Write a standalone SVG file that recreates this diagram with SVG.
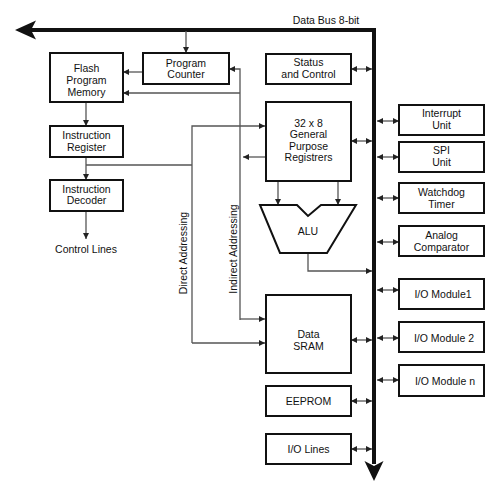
<svg xmlns="http://www.w3.org/2000/svg" width="500" height="495" viewBox="0 0 500 495">
<defs>
<marker id="ah" viewBox="0 0 10 10" refX="10" refY="5" markerWidth="7" markerHeight="6" markerUnits="userSpaceOnUse" orient="auto-start-reverse"><path d="M0,0 L10,5 L0,10 Z" fill="#222"/></marker>
</defs>
<style>
.box{fill:#fff;stroke:#111;stroke-width:2}
.t{font-family:"Liberation Sans",Arial,sans-serif;font-size:10.5px;fill:#111;text-anchor:middle}
.c{fill:none;stroke:#555;stroke-width:1.3}
.a{marker-end:url(#ah)}
.b{marker-start:url(#ah);marker-end:url(#ah)}
.bus{fill:none;stroke:#111;stroke-width:4}
.head{fill:#111}
</style>
<rect width="500" height="495" fill="#fff"/>
<g id="connectors">
<path class="bus" d="M374,464 L374,30 L30,30"/>
<path class="head" d="M15,30 L36,20.5 L31,30 L36,39.5 Z"/>
<path class="head" d="M374,481 L364.5,461 L374,466 L383.5,461 Z"/>
<path class="c a" d="M186,31 V53"/>
<path class="c a" d="M143,72 H123"/>
<path class="c a" d="M240,93 H123"/>
<path class="c a" d="M240,320 V69 H229"/>
<path class="c a" d="M266,157 H243"/>
<path class="c a" d="M240,319 H265"/>
<path class="c a" d="M192,343 V126 H265"/>
<path class="c a" d="M192,343 H265"/>
<path class="c" d="M86,165 H192"/>
<path class="c a" d="M86,102 V126"/>
<path class="c a" d="M86,157 V180"/>
<path class="c a" d="M86,211 V239"/>
<path class="c a" d="M278,181 V205"/>
<path class="c a" d="M338,181 V205"/>
<path class="c a" d="M308,253 V271 H372"/>
<path class="c b" d="M351,69 H372"/>
<path class="c b" d="M351,141 H372"/>
<path class="c b" d="M351,340 H372"/>
<path class="c b" d="M351,401 H372"/>
<path class="c b" d="M351,449 H372"/>
<path class="c b" d="M377,121 H399"/>
<path class="c b" d="M377,157 H399"/>
<path class="c b" d="M377,198 H399"/>
<path class="c b" d="M377,242 H399"/>
<path class="c b" d="M377,290 H399"/>
<path class="c b" d="M377,338 H399"/>
<path class="c b" d="M377,380 H399"/>
</g>
<text class="t" x="326" y="23.7">Data Bus 8-bit</text>
<text class="t" x="86" y="252.7">Control Lines</text>
<text class="t" transform="translate(187,253) rotate(-90)" x="0" y="0">Direct Addressing</text>
<text class="t" transform="translate(237,249) rotate(-90)" x="0" y="0">Indirect Addressing</text>
<g id="program-counter"><rect class="box" x="143" y="53" width="86" height="31"/><text class="t" x="186" y="66.5">Program</text><text class="t" x="186" y="78">Counter</text></g>
<g id="flash"><rect class="box" x="50" y="53" width="73" height="49"/><text class="t" x="86.5" y="71.7">Flash</text><text class="t" x="86.5" y="83.7">Program</text><text class="t" x="86.5" y="95.7">Memory</text></g>
<g id="instruction-register"><rect class="box" x="50" y="126" width="73" height="31"/><text class="t" x="86.5" y="138.7">Instruction</text><text class="t" x="86.5" y="150.7">Register</text></g>
<g id="instruction-decoder"><rect class="box" x="50" y="180" width="73" height="31"/><text class="t" x="86.5" y="192.7">Instruction</text><text class="t" x="86.5" y="203.7">Decoder</text></g>
<g id="status"><rect class="box" x="266" y="54" width="85" height="30"/><text class="t" x="308.5" y="65.7">Status</text><text class="t" x="308.5" y="77.7">and Control</text></g>
<g id="registers"><rect class="box" x="266" y="102" width="85" height="79"/><text class="t" x="308.5" y="126.7">32 x 8</text><text class="t" x="308.5" y="138.2">General</text><text class="t" x="308.5" y="149.7">Purpose</text><text class="t" x="308.5" y="161.2">Registrers</text></g>
<g id="alu"><path class="box" d="M260,205 L297,205 L308,216 L321,205 L356,205 L327,253 L280,253 Z"/><text class="t" x="308" y="234.7">ALU</text></g>
<g id="sram"><rect class="box" x="266" y="295" width="85" height="78"/><text class="t" x="308.5" y="337.7">Data</text><text class="t" x="308.5" y="349.7">SRAM</text></g>
<g id="eeprom"><rect class="box" x="266" y="386" width="85" height="30"/><text class="t" x="308.5" y="404.7">EEPROM</text></g>
<g id="io-lines"><rect class="box" x="266" y="434" width="85" height="30"/><text class="t" x="308.5" y="452.7">I/O Lines</text></g>
<g id="interrupt"><rect class="box" x="399" y="105" width="85" height="30"/><text class="t" x="441.5" y="116.7">Interrupt</text><text class="t" x="441.5" y="128.7">Unit</text></g>
<g id="spi"><rect class="box" x="399" y="142" width="85" height="30"/><text class="t" x="441.5" y="153.7">SPI</text><text class="t" x="441.5" y="165.7">Unit</text></g>
<g id="watchdog"><rect class="box" x="399" y="183" width="85" height="30"/><text class="t" x="441.5" y="195.7">Watchdog</text><text class="t" x="441.5" y="207.7">Timer</text></g>
<g id="analog"><rect class="box" x="399" y="226" width="85" height="30"/><text class="t" x="441.5" y="238.7">Analog</text><text class="t" x="441.5" y="250.7">Comparator</text></g>
<g id="io1"><rect class="box" x="399" y="279" width="85" height="30"/><text class="t" x="443" y="297.5">I/O Module1</text></g>
<g id="io2"><rect class="box" x="399" y="322" width="85" height="30"/><text class="t" x="444" y="341.7">I/O Module 2</text></g>
<g id="ion"><rect class="box" x="399" y="365" width="85" height="31"/><text class="t" x="445" y="384.7">I/O Module n</text></g>
</svg>
